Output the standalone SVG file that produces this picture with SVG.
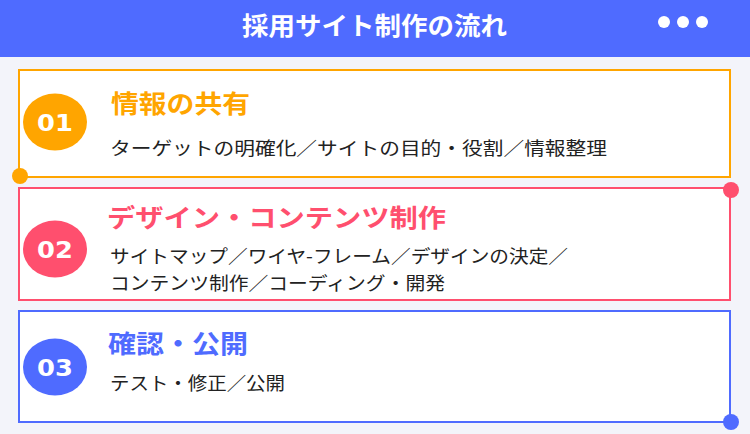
<svg xmlns="http://www.w3.org/2000/svg" width="750" height="434" viewBox="0 0 750 434">
<style>
.h{font-family:"Noto Sans CJK JP",sans-serif;font-weight:700;font-size:25px;}
.b{font-family:"Noto Sans CJK JP",sans-serif;font-size:18.5px;fill:#222;}
.n{font-family:"DejaVu Sans","Liberation Sans",sans-serif;font-weight:700;font-size:23px;fill:#fff;text-anchor:middle;}
.box{fill:#fff;stroke-width:2;}
</style>
<rect x="0" y="0" width="750" height="434" fill="#F3F4FA"/>
<g id="header">
<rect x="0" y="0" width="750" height="57" fill="#4F6BFF"/>
<text x="242" y="35" class="h" fill="#fff" font-size="24" textLength="265" lengthAdjust="spacingAndGlyphs">採用サイト制作の流れ</text>
<circle cx="664" cy="22" r="6" fill="#fff"/>
<circle cx="683" cy="22" r="6" fill="#fff"/>
<circle cx="702" cy="22" r="6" fill="#fff"/>
</g>
<g id="step1">
<rect class="box" x="19" y="70" width="711" height="107" stroke="#FFA500"/>
<ellipse cx="55" cy="122" rx="32" ry="28.5" fill="#FFA500"/>
<text transform="translate(55,131) scale(1.12,1)" class="n">01</text>
<text x="111" y="113" class="h" fill="#FFA500" textLength="139" lengthAdjust="spacingAndGlyphs">情報の共有</text>
<text x="110" y="155" class="b" textLength="497" lengthAdjust="spacingAndGlyphs">ターゲットの明確化／サイトの目的・役割／情報整理</text>
<circle cx="20" cy="176" r="8" fill="#FFA500"/>
</g>
<g id="step2">
<rect class="box" x="19" y="188" width="711" height="112" stroke="#FF4F6E"/>
<ellipse cx="55" cy="249" rx="32" ry="28.5" fill="#FF4F6E"/>
<text transform="translate(55,258) scale(1.12,1)" class="n">02</text>
<text x="107" y="227" class="h" fill="#FF4F6E" textLength="339" lengthAdjust="spacingAndGlyphs">デザイン・コンテンツ制作</text>
<text x="110" y="263" class="b" textLength="458" lengthAdjust="spacingAndGlyphs">サイトマップ／ワイヤ-フレーム／デザインの決定／</text>
<text x="110" y="290" class="b" textLength="335" lengthAdjust="spacingAndGlyphs">コンテンツ制作／コーディング・開発</text>
<circle cx="731" cy="190" r="8" fill="#FF4F6E"/>
</g>
<g id="step3">
<rect class="box" x="19" y="311" width="711" height="111" stroke="#4F6BFF"/>
<ellipse cx="55" cy="367" rx="32" ry="28.5" fill="#4F6BFF"/>
<text transform="translate(55,376) scale(1.12,1)" class="n">03</text>
<text x="108" y="353" class="h" fill="#4F6BFF" textLength="140" lengthAdjust="spacingAndGlyphs">確認・公開</text>
<text x="110" y="390" class="b" textLength="175" lengthAdjust="spacingAndGlyphs">テスト・修正／公開</text>
<circle cx="731" cy="422" r="8" fill="#4F6BFF"/>
</g>
<g id="connectors"></g>
</svg>
